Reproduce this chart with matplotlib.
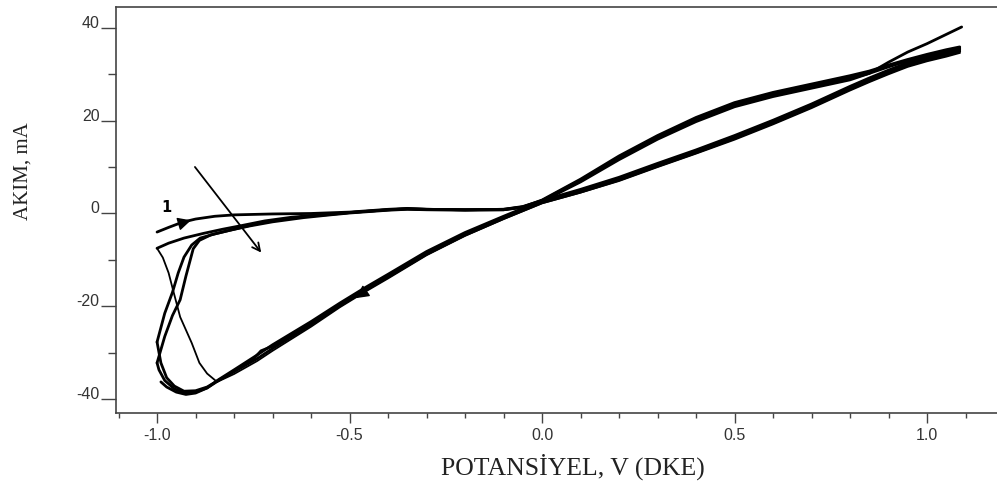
import matplotlib
matplotlib.use('Agg')
import matplotlib.pyplot as plt
from matplotlib.ticker import MultipleLocator, FixedLocator

# cycle 1 forward scan (the one labelled "1", ends at the top near 40 mA)
f1_v = [-1.0, -0.97, -0.935, -0.9, -0.85, -0.8, -0.7, -0.6, -0.5, -0.4, -0.35, -0.3, -0.2, -0.1, -0.05,
        0.0, 0.1, 0.2, 0.3, 0.4, 0.5, 0.6, 0.7, 0.8, 0.85, 0.9, 0.95, 1.0, 1.05, 1.09]
f1_i = [-4.0, -3.0, -1.9, -1.2, -0.6, -0.3, -0.1, 0.0, 0.3, 0.9, 1.1, 0.9, 0.8, 0.8, 1.3,
        2.6, 6.8, 11.6, 16.0, 19.8, 23.0, 25.2, 27.0, 28.8, 30.2, 32.6, 34.8, 36.6, 38.6, 40.2]

# later forward scans
f2_v = [-1.0, -0.97, -0.93, -0.88, -0.83, -0.78, -0.72, -0.65, -0.58, -0.5, -0.4, -0.35, -0.3, -0.2, -0.1, -0.05,
        0.0, 0.1, 0.2, 0.3, 0.4, 0.5, 0.6, 0.7, 0.8, 0.85, 0.9, 0.95, 1.0, 1.05, 1.085]
f2_i = [-7.5, -6.4, -5.3, -4.3, -3.4, -2.6, -1.6, -0.8, -0.3, 0.2, 0.8, 1.0, 0.9, 0.8, 0.9, 1.4,
        2.7, 7.0, 11.9, 16.3, 20.1, 23.3, 25.5, 27.3, 29.1, 30.2, 31.6, 32.9, 33.9, 34.9, 35.4]

f3_v = [-1.0, -0.98, -0.96, -0.945, -0.93, -0.91, -0.888, -0.85, -0.8, -0.75, -0.7, -0.62, -0.55, -0.5, -0.4, -0.35,
        -0.3, -0.2, -0.1, -0.05, 0.0, 0.1, 0.2, 0.3, 0.4, 0.5, 0.6, 0.7, 0.8, 0.85, 0.9, 0.95, 1.0, 1.05, 1.085]
f3_i = [-27.7, -21.5, -17.0, -12.8, -9.4, -6.8, -5.3, -4.4, -3.4, -2.4, -1.6, -0.7, -0.2, 0.2, 0.8, 1.0,
        0.9, 0.8, 0.9, 1.5, 2.8, 7.2, 12.1, 16.5, 20.4, 23.6, 25.8, 27.6, 29.4, 30.4, 31.8, 33.0, 34.1, 35.1, 35.7]

f4_v = [-1.0, -0.98, -0.96, -0.94, -0.925, -0.906, -0.89, -0.86, -0.81, -0.76, -0.7, -0.62, -0.55, -0.5, -0.4, -0.35,
        -0.3, -0.2, -0.1, -0.05, 0.0, 0.1, 0.2, 0.3, 0.4, 0.5, 0.6, 0.7, 0.8, 0.85, 0.9, 0.95, 1.0, 1.05, 1.085]
f4_i = [-32.2, -26.5, -22.0, -18.6, -13.5, -7.6, -5.8, -4.6, -3.6, -2.7, -1.8, -0.9, -0.3, 0.1, 0.7, 0.9,
        0.8, 0.7, 0.8, 1.4, 2.9, 7.4, 12.4, 16.8, 20.7, 23.9, 26.1, 27.9, 29.7, 30.7, 32.0, 33.2, 34.3, 35.3, 35.9]

# reverse scans
r1_v = [1.085, 1.05, 1.0, 0.95, 0.9, 0.85, 0.8, 0.75, 0.7, 0.6, 0.5, 0.4, 0.3, 0.2, 0.1, 0.0, -0.1, -0.2,
        -0.3, -0.4, -0.46, -0.525, -0.6, -0.7, -0.74, -0.8, -0.844, -0.87, -0.89, -0.91, -0.94, -0.96,
        -0.97, -0.985, -1.0]
r1_i = [34.6, 33.8, 32.8, 31.6, 30.0, 28.3, 26.5, 24.6, 22.7, 19.2, 15.9, 12.9, 10.0, 7.0, 4.5, 2.2, -1.2, -4.8,
        -9.0, -14.0, -16.9, -20.2, -24.4, -29.6, -31.8, -34.6, -36.3, -34.5, -32.2, -27.9, -22.3, -16.0,
        -12.8, -9.5, -7.5]

r2_v = [1.085, 1.05, 1.0, 0.95, 0.9, 0.85, 0.8, 0.75, 0.7, 0.6, 0.5, 0.4, 0.3, 0.2, 0.1, 0.0, -0.1, -0.2,
        -0.3, -0.4, -0.46, -0.525, -0.6, -0.7, -0.74, -0.8, -0.84, -0.87, -0.9, -0.93, -0.955, -0.975, -0.99, -1.0]
r2_i = [34.9, 34.1, 33.1, 31.9, 30.3, 28.6, 26.8, 24.9, 23.0, 19.5, 16.2, 13.1, 10.2, 7.2, 4.6, 2.3, -1.1, -4.7,
        -8.8, -13.7, -16.6, -19.9, -24.0, -29.1, -31.3, -34.1, -35.9, -37.4, -38.2, -38.3, -37.2, -35.4, -32.2, -27.7]

r3_v = [1.085, 1.05, 1.0, 0.95, 0.9, 0.85, 0.8, 0.75, 0.7, 0.6, 0.5, 0.4, 0.3, 0.2, 0.1, 0.0, -0.1, -0.2,
        -0.3, -0.4, -0.46, -0.525, -0.6, -0.7, -0.73, -0.75, -0.8, -0.84, -0.87, -0.9, -0.93, -0.955, -0.98, -0.995, -1.0]
r3_i = [35.2, 34.4, 33.4, 32.2, 30.6, 28.9, 27.1, 25.2, 23.3, 19.8, 16.5, 13.4, 10.5, 7.5, 4.9, 2.5, -0.9, -4.4,
        -8.5, -13.4, -16.3, -19.6, -23.6, -28.6, -29.6, -31.4, -34.0, -36.0, -37.6, -38.5, -38.6, -37.8, -36.0, -33.7, -32.2]

r4_v = [1.085, 1.05, 1.0, 0.95, 0.9, 0.85, 0.8, 0.75, 0.7, 0.6, 0.5, 0.4, 0.3, 0.2, 0.1, 0.0, -0.1, -0.2,
        -0.3, -0.4, -0.46, -0.525, -0.6, -0.7, -0.74, -0.8, -0.84, -0.87, -0.9, -0.925, -0.95, -0.975, -0.99]
r4_i = [35.5, 34.7, 33.7, 32.5, 30.9, 29.2, 27.4, 25.5, 23.6, 20.1, 16.8, 13.7, 10.8, 7.8, 5.2, 2.8, -0.6, -4.1,
        -8.2, -13.1, -16.0, -19.3, -23.3, -28.3, -30.5, -33.7, -35.8, -37.6, -38.7, -39.0, -38.5, -37.4, -36.3]

x_ticks = [-1.0, -0.5, 0.0, 0.5, 1.0]
x_tick_labels = ['-1.0', '-0.5', '0.0', '0.5', '1.0']
y_ticks = [-40, -20, 0, 20, 40]
y_tick_labels = ['-40', '-20', '0', '20', '40']

fig = plt.figure(figsize=(9.97, 4.84), dpi=100)
ax = fig.add_axes([0.1164, 0.1467, 0.8836, 0.8388])

# thin reverse of the first cycle, thick lines for the rest
ax.plot(r1_v, r1_i, color='black', lw=1.3, solid_joinstyle='round')
for v, i in [(f1_v, f1_i), (f2_v, f2_i), (f3_v, f3_i), (f4_v, f4_i),
             (r2_v, r2_i), (r3_v, r3_i), (r4_v, r4_i)]:
    ax.plot(v, i, color='black', lw=2.0, solid_joinstyle='round', solid_capstyle='round')

# direction arrows on the curves
ax.annotate('', xy=(-0.905, -1.3), xytext=(-0.95, -2.4),
            arrowprops=dict(arrowstyle='-|>', color='black', lw=1, mutation_scale=20))
ax.annotate('', xy=(-0.49, -18.6), xytext=(-0.44, -15.7),
            arrowprops=dict(arrowstyle='-|>', color='black', lw=1, mutation_scale=20))
# trend arrow across the cycles
ax.annotate('', xy=(-0.725, -8.9), xytext=(-0.906, 10.5),
            arrowprops=dict(arrowstyle='->', color='black', lw=1.3, mutation_scale=14))
ax.text(-0.975, 1.2, '1', fontsize=10.5, fontweight='bold', ha='center', va='center')

ax.set_xlim(-1.1065, 1.1818)
ax.set_ylim(-43.0, 44.5)

ax.xaxis.set_major_locator(FixedLocator(x_ticks))
ax.xaxis.set_minor_locator(MultipleLocator(0.1))
ax.set_xticklabels(x_tick_labels)
ax.yaxis.set_major_locator(FixedLocator(y_ticks))
ax.yaxis.set_minor_locator(MultipleLocator(10))
ax.set_yticklabels(y_tick_labels)

ax.tick_params(axis='x', which='major', direction='out', length=7, width=1, pad=4,
               labelsize=11.5, labelcolor='#333333', color='#444444')
ax.tick_params(axis='x', which='minor', direction='out', length=3.5, width=1, color='#444444')
ax.tick_params(axis='y', which='major', direction='out', length=11, width=1, pad=1,
               labelsize=11.5, labelcolor='#333333', color='#444444')
ax.tick_params(axis='y', which='minor', direction='out', length=6, width=1, color='#444444')
for lab in ax.get_yticklabels():
    lab.set_verticalalignment('baseline')
    lab.set_family('Liberation Sans')
for lab in ax.get_xticklabels():
    lab.set_family('Liberation Sans')

ax.spines['right'].set_visible(False)
for s in ['left', 'bottom', 'top']:
    ax.spines[s].set_color('#444444')
    ax.spines[s].set_linewidth(1.2)

fig.text(0.5747, 1 - 467 / 484, 'POTANSİYEL, V (DKE)', family='Liberation Serif',
         fontsize=18.5, ha='center', va='center', color='#222222')
fig.text(23 / 997, 1 - 171 / 484, 'AKIM, mA', family='Liberation Serif',
         fontsize=15, rotation=90, ha='center', va='center', color='#222222')

fig.savefig('out.png', dpi=100)
